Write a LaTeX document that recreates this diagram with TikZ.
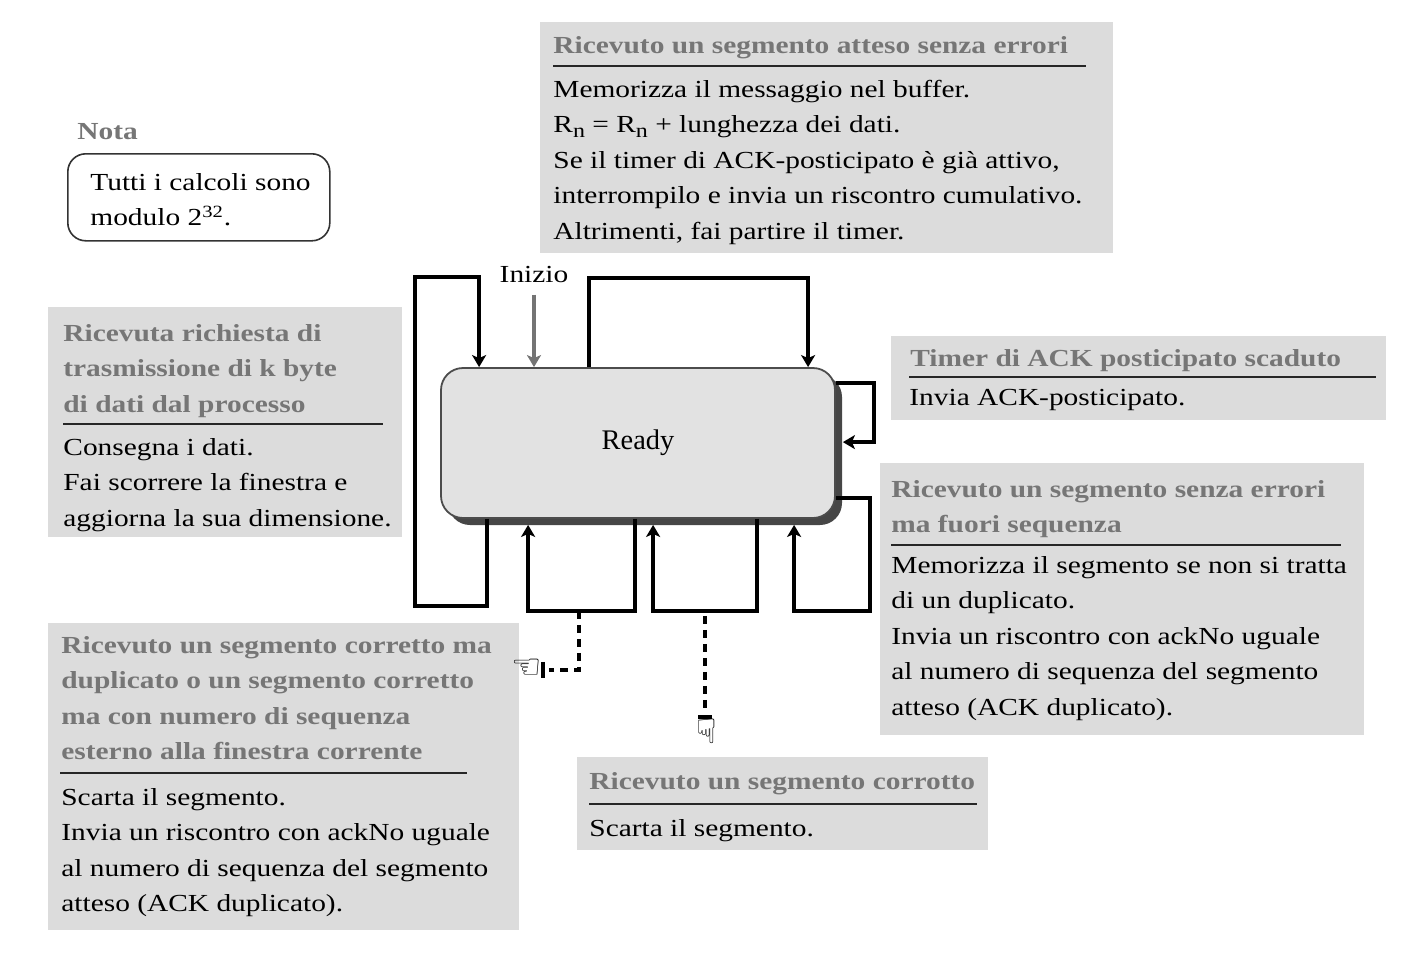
\documentclass[tikz,border=0pt]{standalone}
\usepackage{fontspec}
\setmainfont{Liberation Serif}[FakeStretch=1.2]
\newfontfamily\plainserif{Liberation Serif}
\newfontfamily\symfont{DejaVu Sans}
\usetikzlibrary{arrows.meta,shadows,calc}
\definecolor{boxgray}{HTML}{DCDCDC}
\definecolor{headgray}{HTML}{767676}
\definecolor{readyfill}{HTML}{E2E2E2}
\definecolor{shadowgray}{HTML}{464646}
\definecolor{initgray}{HTML}{747474}
\newcommand{\subn}{\raisebox{-0.45ex}{\fontsize{10}{10}\selectfont n}}
\begin{document}
\begin{tikzpicture}[x=0.5pt,y=-0.5pt,
  txt/.style={inner sep=0pt, font=\fontsize{12.25}{17.75}\selectfont},
  mtxt/.style={txt, align=left, anchor=north west},
  head/.style={inner sep=0pt, font=\fontsize{12.25}{17.75}\selectfont\bfseries, text=headgray},
  mhead/.style={head, align=left, anchor=north west},
  graybox/.style={fill=boxgray, draw=none, inner sep=0pt, anchor=north west},
  rulestyle/.style={line width=1pt, black!85},
  readybox/.style={draw=black!70, line width=0.9pt, fill=readyfill, rounded corners=11pt,
     inner sep=0pt, font=\plainserif\fontsize{14.2}{17}\selectfont,
     drop shadow={shadow xshift=3.5pt, shadow yshift=-3.5pt, fill=shadowgray, opacity=1}},
  notebox/.style={draw=black!80, line width=0.8pt, rounded corners=9pt, inner sep=0pt, anchor=north west},
  loopline/.style={line width=1.7pt, line join=miter},
  looparrow/.style={loopline, -{Stealth[length=6pt,width=7pt,inset=1.5pt]}},
  dashline/.style={line width=1.7pt, dash pattern=on 4pt off 3pt},
  handsym/.style={inner sep=0pt, font=\symfont\fontsize{17}{17}\selectfont}
]
\useasboundingbox (0,0) rectangle (1403,953);

% ---------- gray boxes ----------
\node[graybox, minimum width=286.5pt, minimum height=115.5pt] (boxA) at (540,22) {};
\node[graybox, minimum width=177pt, minimum height=115pt] (boxB) at (48,307) {};
\node[graybox, minimum width=247.5pt, minimum height=42pt] (boxC) at (891,336) {};
\node[graybox, minimum width=242pt, minimum height=136pt] (boxD) at (880,463) {};
\node[graybox, minimum width=235.5pt, minimum height=153.5pt] (boxE) at (48,623) {};
\node[graybox, minimum width=205.5pt, minimum height=46.5pt] (boxF) at (577,757) {};

% ---------- box A ----------
\node[head, anchor=base west] (headA) at (553,54) {Ricevuto un segmento atteso senza errori};
\draw[rulestyle] (553,66) -- (1086,66);
\node[mtxt] (bodyA) at (553,72) {\strut Memorizza il messaggio nel buffer.\\
R\subn{} = R\subn{} + lunghezza dei dati.\\
Se il timer di ACK-posticipato è già attivo,\\
interrompilo e invia un riscontro cumulativo.\\
Altrimenti, fai partire il timer.};

% ---------- box B ----------
\node[mhead] (headB) at (63,316) {\strut Ricevuta richiesta di\\trasmissione di k byte\\di dati dal processo};
\draw[rulestyle] (63,424) -- (383,424);
\node[mtxt] (bodyB) at (63,430) {\strut Consegna i dati.\\Fai scorrere la finestra e\\aggiorna la sua dimensione.};

% ---------- box C ----------
\node[head, anchor=base west] (headC) at (910,366) {Timer di ACK posticipato scaduto};
\draw[rulestyle] (909,377) -- (1376,377);
\node[txt, anchor=base west] (bodyC) at (909,405) {Invia ACK-posticipato.};

% ---------- box D ----------
\node[mhead] (headD) at (891,472) {\strut Ricevuto un segmento senza errori\\ma fuori sequenza};
\draw[rulestyle] (891,545) -- (1341,545);
\node[mtxt] (bodyD) at (891,548) {\strut Memorizza il segmento se non si tratta\\di un duplicato.\\Invia un riscontro con ackNo uguale\\al numero di sequenza del segmento\\atteso (ACK duplicato).};

% ---------- box E ----------
\node[mhead] (headE) at (61,628) {\strut Ricevuto un segmento corretto ma\\duplicato o un segmento corretto\\ma con numero di sequenza\\esterno alla finestra corrente};
\draw[rulestyle] (60,773) -- (467,773);
\node[mtxt] (bodyE) at (61,780) {\strut Scarta il segmento.\\Invia un riscontro con ackNo uguale\\al numero di sequenza del segmento\\atteso (ACK duplicato).};

% ---------- box F ----------
\node[head, anchor=base west] (headF) at (589,789) {Ricevuto un segmento corrotto};
\draw[rulestyle] (589,804) -- (977,804);
\node[txt, anchor=base west] (bodyF) at (589,836) {Scarta il segmento.};

% ---------- note ----------
\node[head, anchor=base west] (notalabel) at (77,139) {Nota};
\node[notebox, minimum width=131pt, minimum height=43.5pt] (nota) at (67,153) {};
\node[mtxt] (notatext) at (90,165) {\strut Tutti i calcoli sono\\modulo 2\textsuperscript{32}.};

% ---------- Ready state ----------
\node[readybox, minimum width=197pt, minimum height=75pt] (ready) at (638,443) {Ready};

% start arrow
\node[txt, anchor=base] (inizio) at (534,282) {Inizio};
\draw[line width=1.7pt, initgray, -{Stealth[length=6pt,width=7pt,inset=1.5pt]}, shorten <=6pt]
  (inizio.south) -- (inizio.south |- ready.north);

% left loop
\draw[looparrow] ($(ready.south west)+(47,0)$) -- ++(0,87) -- ++(-72,0) -- ++(0,-329) -- ++(64,0)
  -- ($(ready.north west)+(39,0)$);
% top loop
\draw[looparrow] ($(ready.north west)+(149,0)$) -- ++(0,-89) -| ($(ready.north west)+(368,0)$);
% right loop (timer)
\draw[looparrow] ($(ready.north east)+(0,16)$) -- ++(38,0) |- ($(ready.north east)+(7,75)$);
% bottom loops
\draw[looparrow] ($(ready.south west)+(195,0)$) -- ++(0,92) -| ($(ready.south west)+(88,6)$);
\draw[looparrow] ($(ready.south west)+(317,0)$) -- ++(0,92) -| ($(ready.south west)+(213,6)$);
\draw[looparrow] ($(ready.south east)+(0,-21)$) -- ++(34,0) -- ++(0,113) -| ($(ready.south west)+(354,6)$);

% dashed connectors to the lower boxes
\coordinate (d1start) at ($(ready.south west)+(139,92)$);
\coordinate (d1corner) at ($(d1start)+(0,59)$);
\coordinate (d1end) at ($(d1corner)+(-30,0)$);
\draw[dashline] (d1start) -- (d1corner) -- (d1end);
\draw[line width=1.7pt] ($(d1end)+(-6,-8)$) -- ($(d1end)+(-6,8)$);
\node[handsym, anchor=east] (hand1) at ($(d1end)+(-7,-1)$) {☜};

\coordinate (d2start) at ($(ready.south west)+(265,97)$);
\coordinate (d2end) at ($(d2start)+(0,97)$);
\draw[dashline] (d2start) -- (d2end);
\draw[line width=1.7pt] ($(d2end)+(-7,4)$) -- ($(d2end)+(7,4)$);
\node[handsym, anchor=north] (hand2) at ($(d2end)+(2,6)$) {☟};
\end{tikzpicture}
\end{document}
